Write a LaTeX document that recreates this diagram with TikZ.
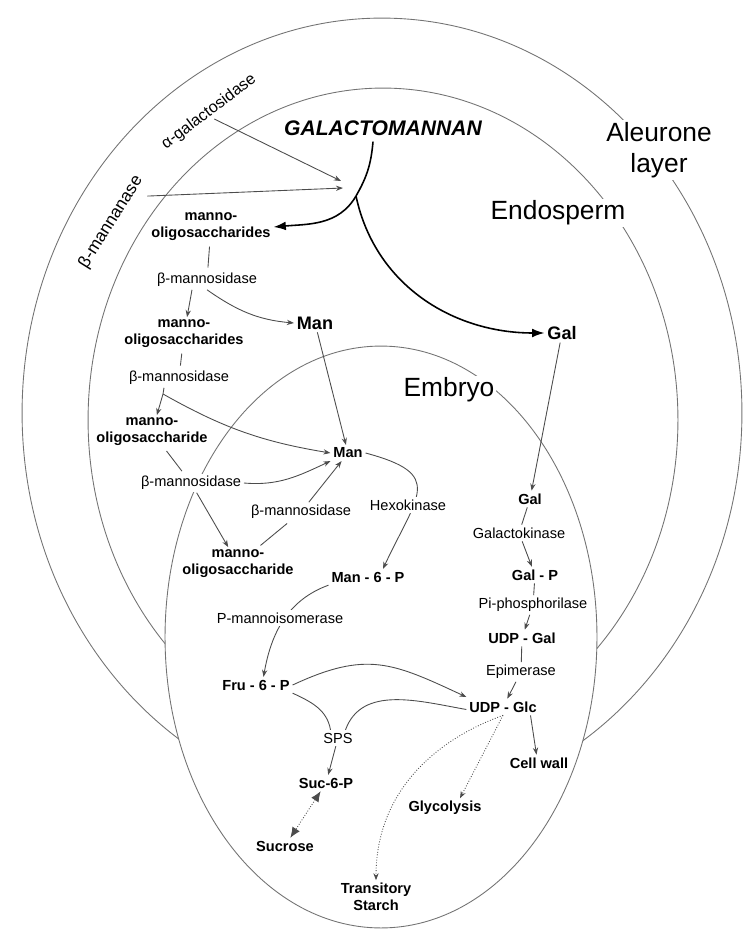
\documentclass[tikz,border=0pt]{standalone}
\usepackage{fontspec}
\setmainfont{Liberation Sans}
\usetikzlibrary{arrows.meta}

\begin{document}
\begin{tikzpicture}[x=0.02cm,y=-0.02cm,
  shell/.style={draw=black!55, line width=0.5pt},
  region/.style={font=\fontsize{15}{18}\selectfont, align=center, fill=white, inner sep=1pt},
  met/.style={font=\bfseries\fontsize{8.3}{9.6}\selectfont, align=center, inner sep=1.5pt},
  enz/.style={font=\fontsize{8.3}{9.6}\selectfont, inner sep=1.5pt},
  conn/.style={draw=black!70, line width=0.5pt},
  link/.style={conn, shorten <=1.5pt, shorten >=1.5pt},
  tip/.style={conn, -{Stealth[length=4pt,width=3pt]}},
  flow/.style={line width=0.9pt, -{Latex[length=7pt,width=5pt]}},
  dots/.style={tip, densely dotted}]
\useasboundingbox (0,0) rectangle (746,933);

% Aleurone layer and endosperm, cut off by the embryo
\begin{scope}[even odd rule]
\clip (-5,-5) rectangle (751,938) (381,637) ellipse[x radius=4.32cm, y radius=5.82cm];
\draw[shell] (382,413) ellipse[x radius=7.2cm, y radius=7.9cm];
\draw[shell] (383,420) ellipse[x radius=5.9cm, y radius=6.64cm];
\end{scope}

% Embryo
\draw[shell] (381,637) ellipse[x radius=4.32cm, y radius=5.82cm];

\node[region] (aleur) at (659,150) {Aleurone\\layer};
\node[region] (endo) at (558,213) {Endosperm};
\node[region] (embr) at (449,390) {Embryo};

% Endosperm
\node[enz, font=\fontsize{9.2}{11}\selectfont, inner sep=0.5pt, rotate=37] (agal) at (209,112) {α-galactosidase};
\node[enz, font=\fontsize{9.8}{12}\selectfont, inner sep=0.5pt, rotate=58] (bmann) at (111,222) {β-mannanase};
\node[font=\bfseries\itshape\fontsize{12}{14}\selectfont] (galm) at (383,128) {GALACTOMANNAN};
\node[met] (oligoA) at (211,227) {manno-\\oligosaccharides};
\node[enz] (mnsA) at (207,280) {β-mannosidase};
\node[met, font=\bfseries\fontsize{10.3}{12}\selectfont] (manA) at (315,323) {Man};
\node[met] (oligoB) at (184,334) {manno-\\oligosaccharides};
\node[enz] (mnsB) at (179,378) {β-mannosidase};
\node[met] (oligoC) at (152,432) {manno-\\oligosaccharide};
\node[met, font=\bfseries\fontsize{10.3}{12}\selectfont] (galA) at (562,333) {Gal};

% Embryo
\node[enz, fill=white] (mnsC) at (191,483) {β-mannosidase};
\node[met] (manB) at (348,453) {Man};
\node[enz] (mnsD) at (301,512) {β-mannosidase};
\node[met] (oligoD) at (238,564) {manno-\\oligosaccharide};
\node[met] (man6p) at (368,577) {Man - 6 - P};
\node[met] (fru6p) at (256,685) {Fru - 6 - P};
\node[enz] (sps) at (338,738) {SPS};
\node[met] (suc6p) at (326,783) {Suc-6-P};
\node[met] (sucr) at (285,846) {Sucrose};
\node[met] (starch) at (376,897) {Transitory\\Starch};
\node[met] (glyc) at (445,808) {Glycolysis};
\node[met] (cwall) at (539,763) {Cell wall};
\node[met] (udpglc) at (503,707) {UDP - Glc};
\node[enz] (epim) at (521,672) {Epimerase};
\node[met] (udpgal) at (522,638) {UDP - Gal};
\node[enz] (piph) at (533,605) {Pi-phosphorilase};
\node[met] (galp) at (535,575) {Gal - P};
\node[enz] (galk) at (519,533) {Galactokinase};
\node[met] (galB) at (530,499) {Gal};

\coordinate (hubA) at (341,181);
\coordinate (hubB) at (343,188);
\coordinate (fork) at (356,196);
\coordinate (split) at (163,394);

% Hydrolysis of galactomannan
\draw[tip] (agal.south) -- (hubA);
\draw[tip] ([yshift=-0.3cm]bmann.south east) -- (hubB);
\draw[line width=0.9pt] ([xshift=-0.2cm]galm.south) to[out=-95,in=60] (fork);
\draw[flow] (fork) to[out=240,in=5] (oligoA.east);
\draw[flow] (fork) to[out=-78,in=180] (galA.west);

% Mannose side
\draw[link] (oligoA) -- (mnsA);
\draw[tip] ([xshift=-0.3cm]mnsA.south) -- (oligoB);
\draw[tip] (mnsA.south) to[out=-35,in=175] (manA.west);
\draw[tip] (manA) -- (manB);
\draw[link] (oligoB) -- (mnsB);
\draw[conn] ([xshift=-0.3cm]mnsB.south) -- (split);
\draw[tip] (split) -- (oligoC);
\draw[tip] (split) to[bend right=10] (manB.west);
\draw[link] (oligoC) -- (mnsC);
\draw[tip] (mnsC.east) to[out=-5,in=205] (manB.south west);
\draw[tip] (mnsC) -- (oligoD);
\draw[link] (oligoD) -- (mnsD);
\draw[tip] (mnsD) -- (manB);
\draw[tip] (manB.east) to[out=-15,in=65,looseness=1.8] ([xshift=0.3cm]man6p.north);
\draw[tip] (man6p.south west) to[out=200,in=80] ([xshift=0.15cm]fru6p.north);

% Sucrose and UDP-Glc
\draw[tip] (fru6p.east) to[out=25,in=155,looseness=1.2] ([yshift=0.2cm]udpglc.west);
\draw[conn] (fru6p.south east) to[out=-25,in=100] ([xshift=-0.15cm]sps.north);
\draw[conn] ([yshift=-0.05cm]udpglc.west) to[out=170,in=70] ([xshift=0.15cm]sps.north);
\draw[tip] (sps) -- (suc6p);
\draw[conn, densely dotted, {Latex[length=6pt,width=5pt]}-{Latex[length=6pt,width=5pt]}] (suc6p) -- (sucr);
\draw[dots] (udpglc.south) to[out=200,in=90] (starch.north);
\draw[dots] (udpglc.south) -- ([xshift=0.3cm]glyc.north);
\draw[tip] ([xshift=0.55cm]udpglc.south) -- ([xshift=-0.05cm]cwall.north);

% Galactose side
\draw[tip] (galA) -- (galB);
\draw[conn] (galB) -- (galk);
\draw[tip] (galk) -- (galp);
\draw[conn] (galp) -- (piph);
\draw[tip] (piph) -- (udpgal);
\draw[conn] (udpgal) -- (epim);
\draw[tip] (epim) -- (udpglc);

% Enzymes on the arcs
\node[enz, fill=white] (hexo) at (408,505) {Hexokinase};
\node[enz, fill=white] (pmi) at (280,618) {P-mannoisomerase};
\end{tikzpicture}
\end{document}
